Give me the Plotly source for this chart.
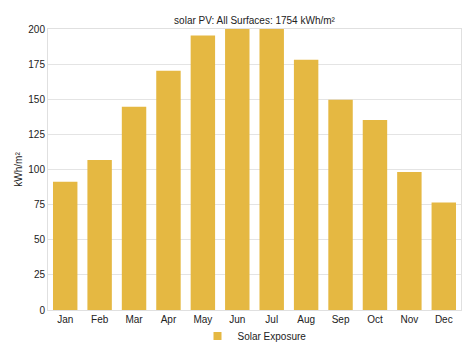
import plotly.graph_objects as go

months = ["Jan", "Feb", "Mar", "Apr", "May", "Jun", "Jul", "Aug", "Sep", "Oct", "Nov", "Dec"]
solar_exposure = [91.3, 106.8, 144.7, 170.3, 195.4, 203.5, 204.0, 178.1, 149.7, 135.2, 98.2, 76.6]
series_name = "Solar Exposure"
title_text = "solar PV: All Surfaces: 1754 kWh/m²"
y_title = "kWh/m²"
y_ticks = [0, 25, 50, 75, 100, 125, 150, 175, 200]

bar_color = "#E5B842"

fig = go.Figure()
fig.add_trace(go.Bar(
    x=months, y=solar_exposure, name=series_name,
    marker=dict(color=bar_color, line=dict(width=0)),
    showlegend=False,
))
# legend proxy with a small square symbol
fig.add_trace(go.Scatter(
    x=[None], y=[None], mode="markers", name=series_name,
    marker=dict(symbol="square", size=8, color=bar_color),
    showlegend=True, hoverinfo="skip",
))

W, H = 475, 356
font = "Liberation Sans, Arial, Helvetica, sans-serif"
fig.update_layout(
    width=W, height=H,
    margin=dict(l=40, r=22, t=21, b=54, autoexpand=False),
    paper_bgcolor="white", plot_bgcolor="white",
    font=dict(family=font, size=10, color="#222"),
    title=dict(text=title_text, x=0.5, xref="paper", xanchor="center",
               y=(H - 12) / H, yref="container", yanchor="middle",
               font=dict(size=10, color="#222")),
    bargap=0.29,
    showlegend=True,
    legend=dict(orientation="h", x=0.5, xref="paper", xanchor="center",
                y=(H - 328) / H, yref="container", yanchor="middle",
                itemwidth=30, bgcolor="rgba(0,0,0,0)",
                font=dict(size=10, color="#222")),
    xaxis=dict(showgrid=False, showline=True, linecolor="#e0e0e0", mirror=True,
               ticks="", tickfont=dict(size=10)),
    yaxis=dict(range=[0, 200], tickvals=y_ticks, showgrid=True, gridcolor="#e4e4e4",
               showline=True, linecolor="#e0e0e0", mirror=True, zeroline=False,
               ticks="", tickfont=dict(size=10),
               title=dict(text=y_title, font=dict(size=10), standoff=3)),
)

fig.write_html("out.html")
